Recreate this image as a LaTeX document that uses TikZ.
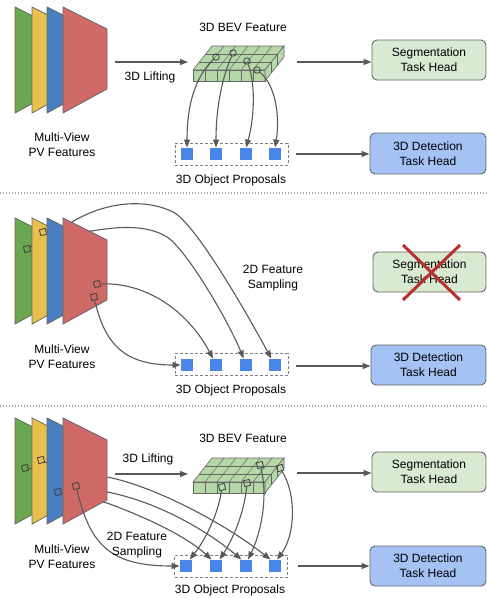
\documentclass[tikz,border=0pt]{standalone}
\usepackage{fontspec}
\setmainfont{Liberation Sans}
\usetikzlibrary{arrows.meta}
\definecolor{lineg}{HTML}{595959}
\definecolor{edgeg}{HTML}{666666}
\definecolor{pvgreen}{HTML}{6AA84F}
\definecolor{pvyellow}{HTML}{E9C04E}
\definecolor{pvblue}{HTML}{4A7FC1}
\definecolor{pvred}{HTML}{D06A67}
\definecolor{bevgreen}{HTML}{B6D7A8}
\definecolor{segfill}{HTML}{D9EAD3}
\definecolor{detfill}{HTML}{A4C2F4}
\definecolor{propblue}{HTML}{4A86E8}
\definecolor{xred}{HTML}{B8312F}
\newcommand{\lblfont}{\fontsize{12}{15}\selectfont}
\newcommand{\pvplane}[3]{\filldraw[plane,fill=#3] (#1,#2) -- ++(44,22) -- ++(0,60) -- ++(-44,24) -- cycle;}
\newcommand{\bevblock}[1]{%
 \begin{scope}[shift={(0,#1)}]
 \filldraw[bevface] (193,24) -- (265,24) -- (284,0) -- (212,0) -- cycle;
 \foreach \i in {1,...,5} \draw[bevgrid] (193+12*\i,24) -- (212+12*\i,0);
 \foreach \j in {1,2} \draw[bevgrid] (193+19*\j/3,24-8*\j) -- ++(72,0);
 \filldraw[bevface] (193,24) rectangle (265,35);
 \foreach \i in {1,...,5} \draw[bevgrid] (193+12*\i,24) -- ++(0,11);
 \filldraw[bevface] (265,24) -- (284,0) -- (284,11) -- (265,35) -- cycle;
 \foreach \j in {1,2} \draw[bevgrid] (265+19*\j/3,24-8*\j) -- ++(0,11);
 \end{scope}}
\begin{document}
\begin{tikzpicture}[x=1pt,y=-1pt,
 conn/.style={draw=lineg,line width=1.1pt,-{Triangle[length=8pt,width=6pt]}},
 plane/.style={draw=edgeg,line width=0.8pt},
 bevface/.style={fill=bevgreen,draw=edgeg,line width=0.6pt},
 bevgrid/.style={draw=edgeg,line width=0.5pt},
 prop/.style={fill=propblue,minimum size=12.5pt,inner sep=0pt,draw=none},
 pbox/.style={draw=gray,dash pattern=on 3pt off 2pt,line width=0.8pt,minimum width=113pt,minimum height=22pt,inner sep=0pt},
 head/.style={rounded corners=5pt,draw=edgeg,line width=0.9pt,minimum width=114pt,minimum height=40pt,align=center,inner sep=0pt,font=\lblfont},
 lbl/.style={align=center,font=\lblfont,inner sep=0pt},
 mk/.style={draw=black!75,line width=0.8pt,minimum size=6pt,inner sep=0pt,rotate=15},
 mkc/.style={circle,draw=black!75,line width=0.8pt,minimum size=6.5pt,inner sep=0pt},
 sep/.style={draw=gray!70,line width=2pt,dash pattern=on 1pt off 2pt},
 xmark/.style={draw=xred,line width=3pt}
]
\useasboundingbox (0,0) rectangle (487,598);

% ================= TOP PANEL =================
\pvplane{15}{7}{pvgreen}
\pvplane{32}{7}{pvyellow}
\pvplane{47}{7}{pvblue}
\pvplane{63}{7}{pvred}
\node[lbl] (mvA) at (62,145) {Multi-View\\PV Features};
\bevblock{46}
\node[lbl] (bevlabA) at (243,27) {3D BEV Feature};
\coordinate (liftA0) at (115,62);
\coordinate (liftA1) at (188,62);
\draw[conn] (liftA0) -- (liftA1);
\node[lbl] (liftlabA) at (150,77) {3D Lifting};
\node[pbox] (boxA) at (231.5,154) {};
\foreach \n/\x in {1/187,2/216,3/246,4/275} \node[prop] (pA\n) at (\x,154) {};
\node[lbl] (proplabA) at (231,180) {3D Object Proposals};
\node[mkc] (cA1) at (216,57) {};
\node[mkc] (cA2) at (233,53) {};
\node[mkc] (cA3) at (247,61) {};
\node[mkc] (cA4) at (257,70) {};
\draw[conn] (cA1) .. controls (192,80) and (187,112) .. (pA1.north);
\draw[conn] (cA2) .. controls (222,78) and (216,108) .. (pA2.north);
\draw[conn] (cA3) .. controls (256,85) and (254,120) .. (pA3.north);
\draw[conn] (cA4) .. controls (276,85) and (280,118) .. (pA4.north);
\node[head,fill=segfill] (segA) at (429,60) {Segmentation\\Task Head};
\node[head,fill=detfill,minimum width=116pt,minimum height=41pt] (detA) at (428,153.5) {3D Detection\\Task Head};
\coordinate (bevoutA) at (297,62);
\draw[conn] (bevoutA) -- (bevoutA -| segA.west);
\coordinate (propoutA) at (296,154);
\draw[conn] (propoutA) -- (propoutA -| detA.west);

\draw[sep] (0,193) -- (487,193);

% ================= MIDDLE PANEL =================
\node[pbox] (boxB) at (231.5,364.5) {};
\foreach \n/\x in {1/187,2/216,3/246,4/275} \node[prop] (pB\n) at (\x,365) {};
\node[lbl] (proplabB) at (231,390) {3D Object Proposals};

\pvplane{15}{218}{pvgreen}
\node[mk] (mgB) at (27,249) {};
\coordinate (geB) at (72,222);
\draw[conn] (mgB) -- (geB) .. controls (105,202) and (145,198) .. (173,212)
  .. controls (195,223) and (245,310) .. (pB4.120);
\pvplane{32}{218}{pvyellow}
\node[mk] (myB) at (43,232) {};
\coordinate (yeB) at (92,231);
\draw[conn] (myB) -- (yeB) .. controls (120,226) and (148,225) .. (167,237)
  .. controls (186,249) and (228,320) .. (pB3.110);
\pvplane{47}{218}{pvblue}
\pvplane{63}{218}{pvred}
\node[mk] (mr1B) at (97,284) {};
\node[mk] (mr2B) at (94,297) {};
\draw[conn] (mr1B) .. controls (150,282) and (190,315) .. (pB2.115);
\draw[conn] (mr2B) .. controls (105,345) and (125,365) .. (pB1.west);
\node[lbl] (mvB) at (62,357) {Multi-View\\PV Features};
\node[lbl] (samplabB) at (273,278) {2D Feature\\Sampling};

\node[head,fill=segfill,minimum width=113pt] (segB) at (429.5,272) {Segmentation\\Task Head};
\draw[xmark] (403,245) -- (460,300);
\draw[xmark] (460,245) -- (403,300);
\node[head,fill=detfill,minimum width=115pt] (detB) at (428.5,365) {3D Detection\\Task Head};
\coordinate (propoutB) at (296,366);
\draw[conn] (propoutB) -- (propoutB -| detB.west);

\draw[sep] (0,406) -- (487,406);

% ================= BOTTOM PANEL =================
\node[pbox] (boxC) at (231,566) {};
\foreach \n/\x in {1/186,2/216,3/246,4/275} \node[prop] (pC\n) at (\x,566) {};
\node[lbl] (proplabC) at (230,590) {3D Object Proposals};

\pvplane{15}{418}{pvgreen}
\node[mk] (mgC) at (25,468) {};
\coordinate (geC) at (107,477);
\draw[conn] (mgC) -- (geC) .. controls (150,485) and (220,520) .. (pC4.125);
\pvplane{32}{418}{pvyellow}
\node[mk] (myC) at (41,460) {};
\coordinate (yeC) at (107,492);
\draw[conn] (myC) -- (yeC) .. controls (150,500) and (200,525) .. (pC3.125);
\pvplane{47}{418}{pvblue}
\node[mk] (mbC) at (58,492) {};
\coordinate (beC) at (107,503);
\draw[conn] (mbC) -- (beC) .. controls (140,515) and (185,535) .. (pC2.125);
\pvplane{63}{418}{pvred}
\node[mk] (mrC) at (76,486) {};
\draw[conn] (mrC) .. controls (90,545) and (110,566) .. (pC1.west);
\node[lbl] (mvC) at (62,557) {Multi-View\\PV Features};
\node[lbl] (samplabC) at (137,545) {2D Feature\\Sampling};

\bevblock{458}
\node[lbl] (bevlabC) at (243,438) {3D BEV Feature};
\coordinate (liftC0) at (115,474);
\coordinate (liftC1) at (188,474);
\draw[conn] (liftC0) -- (liftC1);
\node[lbl] (liftlabC) at (148,459) {3D Lifting};
\node[mk] (qC1) at (222,487) {};
\node[mk] (qC2) at (247,483) {};
\node[mk] (qC3) at (260,465) {};
\node[mk] (qC4) at (280,468) {};
\draw[conn] (qC1) .. controls (218,515) and (205,540) .. (pC1.60);
\draw[conn] (qC2) .. controls (244,515) and (232,540) .. (pC2.60);
\draw[conn] (qC3) .. controls (268,495) and (262,530) .. (pC3.72);
\draw[conn] (qC4) .. controls (297,495) and (295,535) .. (pC4.72);

\node[head,fill=segfill] (segC) at (429,472) {Segmentation\\Task Head};
\node[head,fill=detfill,minimum width=116pt] (detC) at (428,566) {3D Detection\\Task Head};
\coordinate (bevoutC) at (297,473);
\draw[conn] (bevoutC) -- (bevoutC -| segC.west);
\coordinate (propoutC) at (298,566);
\draw[conn] (propoutC) -- (propoutC -| detC.west);
\end{tikzpicture}
\end{document}
